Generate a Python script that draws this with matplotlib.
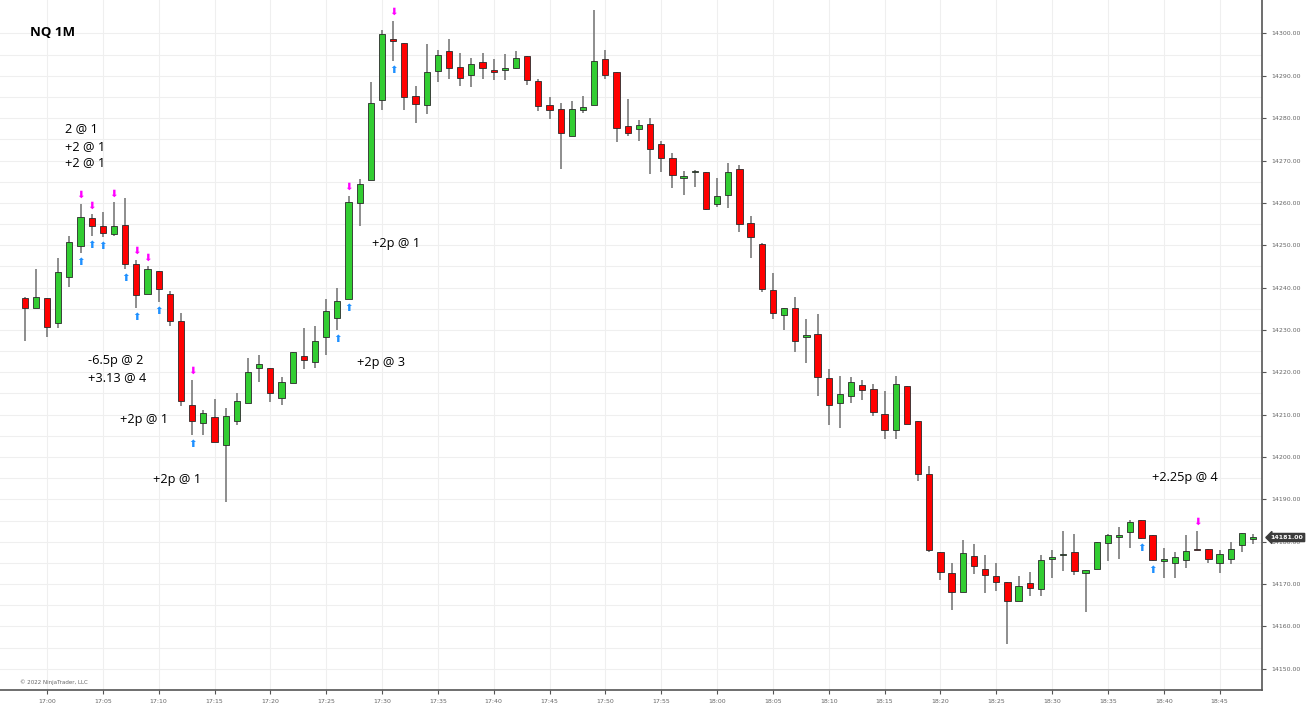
import matplotlib
matplotlib.use('Agg')
import matplotlib.pyplot as plt
from matplotlib.patches import Rectangle
import pandas as pd

# ---------------- data (1-minute NQ bars, 16:58 .. 18:48) ----------------
start_time = "16:58"
opens = [14237.6, 14235.3, 14237.6, 14231.6, 14242.4, 14249.8, 14256.5, 14254.5, 14252.7, 14254.7,
         14245.5, 14238.4, 14244.0, 14238.4, 14232.0, 14212.2, 14208.1, 14209.4, 14202.8, 14208.5,
         14212.8, 14221.1, 14221.1, 14214.0, 14217.4, 14223.9, 14222.5, 14228.3, 14232.8, 14237.2,
         14259.9, 14265.5, 14284.3, 14298.7, 14297.8, 14285.2, 14283.2, 14291.2, 14295.9, 14292.2,
         14290.3, 14293.2, 14291.4, 14291.4, 14291.8, 14294.6, 14288.7, 14283.0, 14282.2, 14275.9,
         14281.9, 14283.2, 14293.9, 14290.9, 14278.2, 14277.5, 14278.7, 14274.0, 14270.7, 14266.0,
         14267.3, 14267.2, 14259.7, 14261.9, 14267.9, 14255.3, 14250.4, 14239.5, 14233.5, 14235.1,
         14228.5, 14229.0, 14218.6, 14212.8, 14214.4, 14217.1, 14216.1, 14210.1, 14206.35, 14216.8,
         14208.4, 14195.9, 14177.6, 14172.6, 14168.1, 14176.7, 14173.6, 14172.0, 14170.4, 14166.1,
         14170.2, 14168.8, 14176.0, 14176.9, 14177.6, 14172.7, 14173.6, 14179.8, 14181.2, 14182.3,
         14185.1, 14181.5, 14175.4, 14175.1, 14175.7, 14178.3, 14178.3, 14175.0, 14175.9, 14179.2,
         14180.8]
highs = [14237.8, 14244.4, 14237.6, 14246.9, 14252.2, 14259.8, 14257.3, 14257.8, 14260.1, 14261.1,
         14246.6, 14245.0, 14244.0, 14239.3, 14234.1, 14218.2, 14211.2, 14213.6, 14211.6, 14215.2,
         14223.3, 14224.2, 14221.1, 14218.8, 14224.8, 14230.4, 14230.9, 14237.4, 14239.8, 14261.7,
         14265.6, 14288.6, 14300.9, 14302.9, 14297.8, 14287.7, 14297.6, 14296.1, 14298.7, 14295.5,
         14294.2, 14295.3, 14293.9, 14295.1, 14295.9, 14294.6, 14289.3, 14285.0, 14283.6, 14284.1,
         14285.2, 14305.6, 14296.0, 14290.9, 14284.6, 14279.6, 14280.0, 14274.5, 14271.8, 14267.55,
         14267.7, 14267.2, 14265.8, 14269.5, 14268.95, 14256.8, 14250.6, 14243.5, 14235.3, 14237.7,
         14232.5, 14233.8, 14220.7, 14219.2, 14218.8, 14218.25, 14217.2, 14215.6, 14219.2, 14216.8,
         14208.4, 14198.0, 14177.6, 14175.1, 14180.3, 14179.5, 14176.9, 14175.1, 14170.4, 14171.9,
         14172.9, 14176.9, 14178.0, 14182.5, 14181.9, 14173.4, 14179.9, 14181.9, 14183.5, 14185.2,
         14185.2, 14181.5, 14178.6, 14177.6, 14181.5, 14182.5, 14178.3, 14178.0, 14180.0, 14182.1,
         14181.9]
lows = [14227.5, 14235.3, 14228.3, 14230.5, 14240.1, 14248.1, 14252.2, 14252.0, 14252.2, 14244.5,
        14235.3, 14238.4, 14236.5, 14230.9, 14212.0, 14205.2, 14205.2, 14203.5, 14189.5, 14207.5,
        14212.8, 14217.8, 14213.0, 14212.4, 14217.4, 14220.9, 14221.1, 14224.2, 14229.9, 14237.2,
        14254.5, 14265.5, 14281.9, 14293.5, 14281.9, 14278.9, 14280.9, 14288.5, 14289.3, 14287.6,
        14287.3, 14289.3, 14289.0, 14289.0, 14291.6, 14287.9, 14281.7, 14279.8, 14267.9, 14275.9,
        14281.3, 14283.2, 14289.3, 14274.4, 14275.8, 14274.5, 14266.9, 14267.2, 14263.5, 14261.9,
        14263.7, 14258.4, 14259.0, 14258.8, 14253.2, 14247.0, 14239.0, 14232.6, 14230.05, 14224.85,
        14222.3, 14214.4, 14207.5, 14206.8, 14212.8, 14213.4, 14209.7, 14204.2, 14204.2, 14207.7,
        14194.4, 14177.6, 14170.9, 14163.9, 14168.1, 14172.4, 14167.9, 14168.3, 14155.9, 14166.0,
        14167.2, 14167.2, 14171.4, 14173.0, 14172.2, 14163.3, 14173.6, 14175.4, 14175.9, 14178.6,
        14180.7, 14175.4, 14171.5, 14171.5, 14173.8, 14178.0, 14175.1, 14172.6, 14174.7, 14177.6,
        14179.4]
closes = [14235.1, 14237.9, 14230.8, 14243.7, 14250.7, 14256.7, 14254.5, 14252.9, 14254.6, 14245.5,
          14238.25, 14244.5, 14239.7, 14232.0, 14213.2, 14208.4, 14210.5, 14203.6, 14209.7, 14213.3,
          14220.0, 14221.9, 14215.0, 14217.8, 14224.8, 14222.8, 14227.5, 14234.5, 14236.9, 14260.2,
          14264.4, 14283.7, 14299.85, 14298.3, 14285.1, 14283.4, 14290.8, 14294.9, 14291.9, 14289.6,
          14292.9, 14291.9, 14290.9, 14291.9, 14294.1, 14289.0, 14282.9, 14281.9, 14276.4, 14282.2,
          14282.7, 14293.5, 14290.1, 14277.7, 14276.6, 14278.3, 14272.7, 14270.7, 14266.5, 14266.2,
          14267.4, 14258.6, 14261.7, 14267.2, 14255.05, 14251.9, 14239.7, 14234.0, 14235.3, 14227.5,
          14228.7, 14218.9, 14212.3, 14214.8, 14217.6, 14215.8, 14210.6, 14206.4, 14217.3, 14207.7,
          14195.9, 14178.0, 14172.8, 14168.1, 14177.3, 14174.2, 14172.2, 14170.4, 14166.1, 14169.5,
          14169.1, 14175.6, 14176.4, 14177.2, 14173.0, 14173.4, 14179.9, 14181.5, 14181.7, 14184.6,
          14180.8, 14175.7, 14175.9, 14176.4, 14177.8, 14178.1, 14175.9, 14177.2, 14178.4, 14182.1,
          14181.0]

xtick_labels = ["17:00", "17:05", "17:10", "17:15", "17:20", "17:25", "17:30", "17:35", "17:40",
                "17:45", "17:50", "17:55", "18:00", "18:05", "18:10", "18:15", "18:20", "18:25",
                "18:30", "18:35", "18:40", "18:45"]
ytick_values = [14150, 14160, 14170, 14180, 14190, 14200, 14210, 14220, 14230, 14240,
                14250, 14260, 14270, 14280, 14290, 14300]

# execution markers (bar times)
sell_arrow_times = ["17:03", "17:04", "17:06", "17:08", "17:09", "17:13", "17:27", "17:31", "18:43"]
buy_arrow_times = ["17:03", "17:04", "17:05", "17:07", "17:08", "17:10", "17:13", "17:26", "17:27",
                   "17:31", "18:38", "18:39"]

# trade notes: text, bar time anchor, price
notes_text = ["2 @ 1", "+2 @ 1", "+2 @ 1", "-6.5p @ 2", "+3.13 @ 4", "+2p @ 1", "+2p @ 1",
              "+2p @ 1", "+2p @ 3", "+2.25p @ 4"]
notes_time = ["17:01", "17:01", "17:01", "17:03", "17:03", "17:06", "17:09", "17:29", "17:28", "18:39"]
notes_price = [14277.6, 14273.4, 14269.5, 14222.7, 14218.7, 14208.9, 14194.7, 14250.4, 14222.4, 14195.2]

title = "NQ 1M"
copyright_text = "\u00a9 2022 NinjaTrader, LLC"

# ---------------- plotting ----------------
times = pd.date_range("2022-01-01 " + start_time, periods=len(opens), freq="min").strftime("%H:%M").tolist()
pos = {t: i for i, t in enumerate(times)}

UP = "#32CD32"
DOWN = "#FF0000"

fig = plt.figure(figsize=(13.15, 7.15), dpi=100)
fig.patch.set_facecolor("white")
ax = fig.add_axes([0, 25 / 715, 1262 / 1315, 690 / 715])
ax.set_facecolor("white")

ax.set_xlim(-2.21, 110.8)
ax.set_ylim(14147.2, 14307.9)

bw = 0.56
for i, (o, h, l, c) in enumerate(zip(opens, highs, lows, closes)):
    ax.vlines(i, l, h, color="#7a7a7a", lw=1.2, zorder=2)
    col = UP if c >= o else DOWN
    bottom = min(o, c)
    height = abs(c - o)
    if height < 0.3:
        bottom = (o + c) / 2 - 0.15
        height = 0.3
    ax.add_patch(Rectangle((i - bw / 2, bottom), bw, height, facecolor=col,
                           edgecolor="#2a2a2a", lw=0.6, zorder=3))

for t in sell_arrow_times:
    i = pos[t]
    ax.annotate("\u2b07", xy=(i, highs[i]), xytext=(0, 6.5), textcoords="offset points",
                ha="center", va="center", color="#FF00FF", fontsize=7.5, zorder=5)
for t in buy_arrow_times:
    i = pos[t]
    ax.annotate("\u2b06", xy=(i, lows[i]), xytext=(0, -6.5), textcoords="offset points",
                ha="center", va="center", color="#1E90FF", fontsize=7.5, zorder=5)

# horizontal shift of each note from its anchor bar (in bars)
note_dx = [0.61, 0.61, 0.61, 0.67, 0.67, 0.53, 0.49, 0.09, -0.25, -0.08]
for txt, t, p, dx in zip(notes_text, notes_time, notes_price, note_dx):
    ax.text(pos[t] + dx, p, txt, ha="left", va="center", fontsize=9.2,
            family="Open Sans", color="black", zorder=6)

ax.text(pos["16:58"] + 0.47, 14300.2, title, ha="left", va="center", fontsize=9.5,
        fontweight="bold", family="Open Sans", color="black")
ax.text(20 / 1262, 0.007, copyright_text, transform=ax.transAxes, ha="left", va="bottom",
        fontsize=4, color="#666666")

# axes styling
for s in ("top", "left"):
    ax.spines[s].set_visible(False)
for s in ("right", "bottom"):
    ax.spines[s].set_color("#555555")
    ax.spines[s].set_linewidth(1.2)

ax.yaxis.tick_right()
ax.set_yticks(ytick_values)
ax.set_yticklabels([f"{v:.2f}" for v in ytick_values])
ax.set_yticks([v + 5 for v in ytick_values[:-1]] + [14145], minor=True)
ax.set_xticks([pos[t] for t in xtick_labels])
ax.set_xticklabels(xtick_labels)
ax.tick_params(axis="both", which="major", labelsize=4.5, colors="#555555", length=3, width=0.8,
               labelcolor="#666666")
ax.tick_params(axis="y", which="minor", length=0)
ax.grid(True, which="both", color="#efefef", lw=0.8, zorder=0)
ax.set_axisbelow(True)

# last price tag
ax.annotate(f"{closes[-1]:.2f}", xy=(1.0, closes[-1]), xycoords=("axes fraction", "data"),
            xytext=(6, 0), textcoords="offset points", ha="left", va="center",
            fontsize=4.5, color="white", fontweight="bold",
            bbox=dict(boxstyle="larrow,pad=0.25", fc="#3c3c3c", ec="#3c3c3c"),
            annotation_clip=False, zorder=7)

fig.savefig("out.png", dpi=100, facecolor="white")
